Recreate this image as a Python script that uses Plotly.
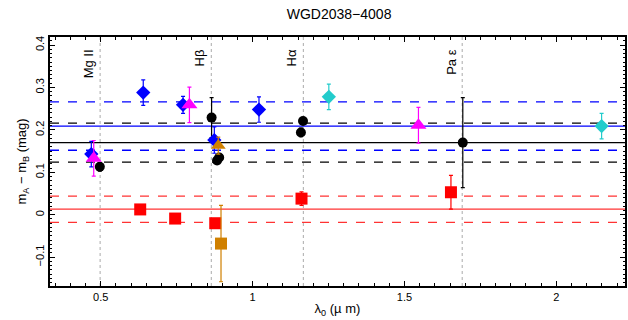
import plotly.graph_objects as go

# ---- data ----
blue_x = [0.469, 0.640, 0.771, 0.874, 1.021]
blue_y = [0.143, 0.288, 0.259, 0.176, 0.248]
blue_e = [0.030, 0.030, 0.020, 0.031, 0.030]

cyan_x = [1.251, 2.149]
cyan_y = [0.278, 0.209]
cyan_e = [0.030, 0.030]

mag_x = [0.477, 0.792, 1.546]
mag_y = [0.133, 0.259, 0.211]
mag_e = [0.042, 0.042, 0.042]

orT_x = [0.887]
orT_y = [0.163]
orT_e = [0.020]

orS_x = [0.896]
orS_y = [-0.068]
orS_e = [0.090]

red_x = [0.630, 0.745, 0.877, 1.161, 1.653]
red_y = [0.0125, -0.009, -0.020, 0.038, 0.053]
red_e = [0.003, 0.003, 0.003, 0.016, 0.040]

blk_x = [0.497, 0.865, 0.883, 0.890, 1.166, 1.159, 1.692]
blk_y = [0.113, 0.229, 0.128, 0.135, 0.221, 0.194, 0.170]
blk_e = [0.010, 0.047, 0.005, 0.005, 0.006, 0.010, 0.106]

line_names = ["Mg II", "Hβ", "Hα", "Pa ε"]
line_x = [0.498, 0.864, 1.167, 1.690]

# mean levels (value, half-width)
black_mean, black_sig = 0.170, 0.046
blue_mean, blue_sig = 0.209, 0.057
red_mean, red_sig = 0.013, 0.031

x_ticks = [0.5, 1, 1.5, 2]
y_ticks = [-0.1, 0, 0.1, 0.2, 0.3, 0.4]
y_tick_text = ["−0.1", "0", "0.1", "0.2", "0.3", "0.4"]

fig = go.Figure()


def add(x, y, e, color, symbol, size):
    fig.add_trace(go.Scatter(
        x=x, y=y, mode="markers",
        marker=dict(color=color, symbol=symbol, size=size, line=dict(width=0)),
        error_y=dict(type="data", array=e, color=color, thickness=1.2, width=2),
        showlegend=False))


# horizontal levels
def hline(y, color, dash):
    fig.add_shape(type="line", xref="paper", x0=0, x1=1, y0=y, y1=y,
                  line=dict(color=color, width=1.3, dash=dash), layer="below")


hline(black_mean, "black", "solid")
hline(black_mean + black_sig, "black", "dash")
hline(black_mean - black_sig, "black", "dash")
hline(blue_mean, "blue", "solid")
hline(blue_mean + blue_sig, "blue", "dash")
hline(blue_mean - blue_sig, "blue", "dash")
hline(red_mean, "#ff3333", "solid")
hline(red_mean + red_sig, "#ff3333", "dash")
hline(red_mean - red_sig, "#ff3333", "dash")

for nm, lx in zip(line_names, line_x):
    fig.add_shape(type="line", yref="paper", x0=lx, x1=lx, y0=0, y1=1,
                  line=dict(color="#aaaaaa", width=1, dash="dot"), layer="below")
    fig.add_annotation(x=lx, y=0.395, text=nm, textangle=-90, showarrow=False,
                       xanchor="right", yanchor="top", xshift=-2,
                       font=dict(size=13, color="black", family="Liberation Sans, Arial"))

add(blk_x, blk_y, blk_e, "black", "circle", 10)
add(red_x, red_y, red_e, "red", "square", 12)
add(orS_x, orS_y, orS_e, "#d08000", "square", 12)
add(blue_x, blue_y, blue_e, "blue", "diamond", 11)
add(cyan_x, cyan_y, cyan_e, "#22cccc", "diamond", 11)
add(orT_x, orT_y, orT_e, "#d08000", "triangle-up", 13)
add(mag_x, mag_y, mag_e, "magenta", "triangle-up", 14)

axis_common = dict(showgrid=False, zeroline=False, showline=True, linecolor="black",
                   linewidth=1.5, mirror="allticks", ticks="inside", tickcolor="black",
                   tickfont=dict(size=11, color="black"))

fig.update_layout(
    width=628, height=320,
    margin=dict(l=50, r=1, t=37, b=34),
    paper_bgcolor="white", plot_bgcolor="white",
    font=dict(family="Liberation Sans, Arial", color="black"),
    title=dict(text="WGD2038−4008", x=0.54, xanchor="center", y=0.955, yanchor="middle",
               font=dict(size=14, color="black")),
    xaxis=dict(range=[0.333, 2.226], tickvals=x_ticks, ticklen=5,
               minor=dict(dtick=0.05, ticklen=3, ticks="inside", tickcolor="black"),
               title=dict(text="λ<sub>0</sub> (µ m)", standoff=2, font=dict(size=13)),
               **axis_common),
    yaxis=dict(range=[-0.168, 0.419], tickvals=y_ticks, ticktext=y_tick_text,
               tickangle=-90, ticklen=5,
               minor=dict(dtick=0.01, ticklen=2, ticks="inside", tickcolor="black"),
               title=dict(text="m<sub>A</sub> − m<sub>B</sub> (mag)", standoff=4,
                          font=dict(size=13)),
               **axis_common),
)

fig.write_html("out.html")
